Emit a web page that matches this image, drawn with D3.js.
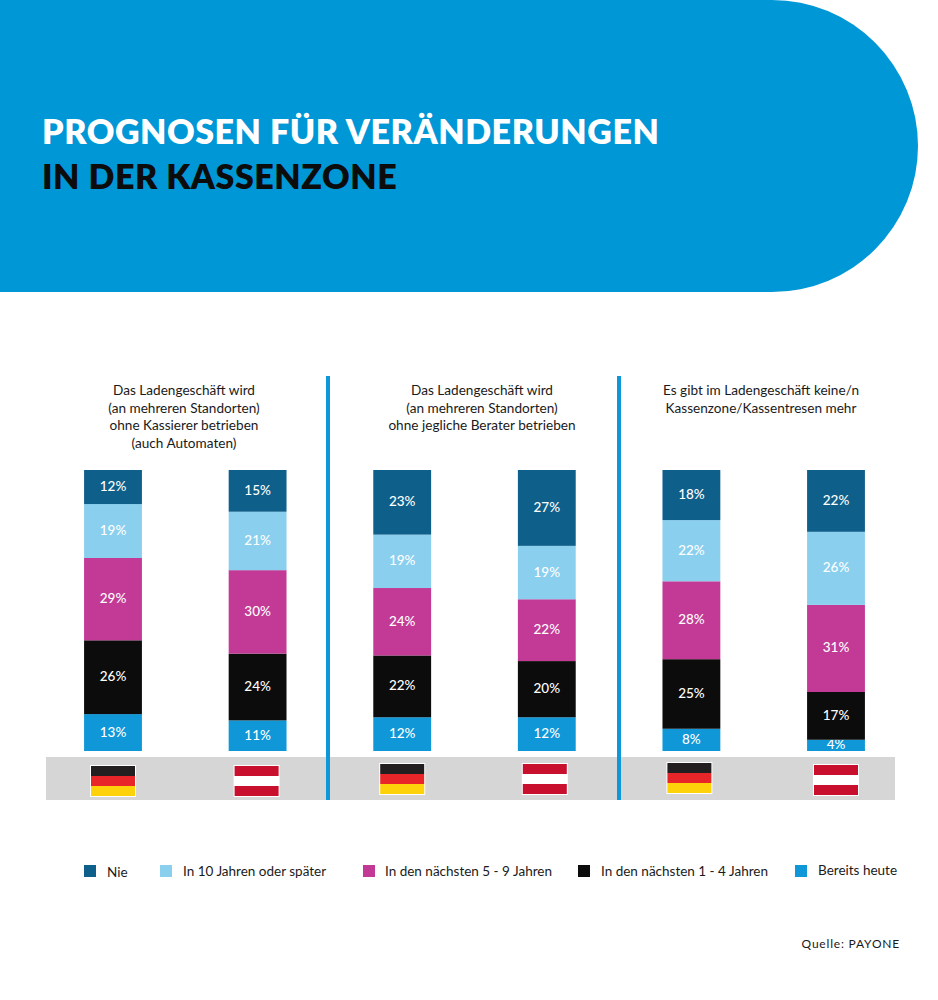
<!DOCTYPE html>
<html lang="de">
<head>
<meta charset="utf-8">
<script src="https://cdnjs.cloudflare.com/ajax/libs/d3/7.8.5/d3.min.js"></script>
<style>
  html, body { margin: 0; padding: 0; background: #fff; }
  svg { display: block; }
  text { font-family: Lato, "Open Sans", sans-serif; }
</style>
</head>
<body>
<div id="chart"></div>
<script>
// data, in stack order bottom to top
var bars = ["de1", "at1", "de2", "at2", "de3", "at3"];
var countries = ["de", "at", "de", "at", "de", "at"];
var bereitsHeute = [13, 11, 12, 12, 8, 4];
var jahre1bis4 = [26, 24, 22, 20, 25, 17];
var jahre5bis9 = [29, 30, 24, 22, 28, 31];
var jahre10 = [19, 21, 19, 19, 22, 26];
var nie = [12, 15, 23, 27, 18, 22];

var panelTitles = [
  ["Das Ladengeschäft wird", "(an mehreren Standorten)", "ohne Kassierer betrieben", "(auch Automaten)"],
  ["Das Ladengeschäft wird", "(an mehreren Standorten)", "ohne jegliche Berater betrieben"],
  ["Es gibt im Ladengeschäft keine/n", "Kassenzone/Kassentresen mehr"]
];
var legendLabels = ["Nie", "In 10 Jahren oder später", "In den nächsten 5 - 9 Jahren", "In den nächsten 1 - 4 Jahren", "Bereits heute"];
var seriesKeys = ["heute", "j1", "j5", "j10", "nie"];
var seriesColors = ["#0f97d8", "#0c0c0c", "#c23a96", "#8acfee", "#0f5f8b"];

var width = 938, height = 1000;

var svg = d3.select("#chart").append("svg")
  .attr("width", width)
  .attr("height", height);

// header shape
svg.append("path")
  .attr("d", "M0,0H772A146,146 0 0 1 772,292H0Z")
  .attr("fill", "#0097d7");

svg.append("text").attr("x", 42).attr("y", 144)
  .attr("fill", "#fff").attr("font-size", 34).attr("font-weight", 800)
  .attr("letter-spacing", 0.55)
  .text("PROGNOSEN FÜR VERÄNDERUNGEN");
svg.append("text").attr("x", 42).attr("y", 189)
  .attr("fill", "#0c0c0c").attr("font-size", 34).attr("font-weight", 800)
  .attr("letter-spacing", 0.55)
  .text("IN DER KASSENZONE");

// grey strip behind the flags
svg.append("rect").attr("x", 46).attr("y", 757).attr("width", 849).attr("height", 43).attr("fill", "#d6d6d6");

// scales
var x = d3.scaleBand().domain(bars).range([40.7, 908.3]).paddingInner(0.6).paddingOuter(0.3);
var y = d3.scaleLinear().domain([0, 1]).range([751, 470]);

// rows for the stack, the printed percentages do not always add to 100
var rows = bars.map(function(b, i) {
  return { bar: b, heute: bereitsHeute[i], j1: jahre1bis4[i], j5: jahre5bis9[i], j10: jahre10[i], nie: nie[i] };
});
var stacked = d3.stack().keys(seriesKeys).offset(d3.stackOffsetExpand)(rows);

var layers = svg.selectAll(".layer")
  .data(stacked)
  .enter()
  .append("g")
  .attr("class", "layer");

layers.selectAll("rect")
  .data(function(s) { return s; })
  .enter()
  .append("rect")
  .attr("x", function(d) { return x(d.data.bar); })
  .attr("y", function(d) { return y(d[1]); })
  .attr("width", x.bandwidth())
  .attr("height", function(d) { return y(d[0]) - y(d[1]); })
  .attr("fill", function(d, i, nodes) {
    return seriesColors[seriesKeys.indexOf(d3.select(nodes[i].parentNode).datum().key)];
  });

layers.selectAll("text")
  .data(function(s) { return s.map(function(d) { return { d: d, key: s.key }; }); })
  .enter()
  .append("text")
  .attr("x", function(e) { return x(e.d.data.bar) + x.bandwidth() / 2; })
  .attr("y", function(e) { return (y(e.d[0]) + y(e.d[1])) / 2; })
  .attr("dy", ".3em")
  .attr("text-anchor", "middle")
  .attr("fill", "#fff")
  .attr("font-size", 13.5)
  .attr("font-weight", 500)
  .text(function(e) { return e.d.data[e.key] + "%"; });

// flags
var flagStripes = {
  de: ["#231f20", "#e8262a", "#fdd20a"],
  at: ["#c8102e", "#ffffff", "#c8102e"]
};
var flagTop = [766, 766, 764, 764, 763, 765];
var flagShift = [0, -1, 0, -2, -2, 0];
var flags = svg.selectAll(".flag")
  .data(bars)
  .enter()
  .append("g")
  .attr("class", "flag")
  .attr("transform", function(b, i) {
    var cx = x(b) + x.bandwidth() / 2 + flagShift[i];
    return "translate(" + (cx - 22) + "," + flagTop[i] + ")";
  });
flags.append("rect")
  .attr("x", -1).attr("y", -1).attr("width", 46).attr("height", 32)
  .attr("fill", "#fff");
flags.selectAll(".stripe")
  .data(function(b, i) { return flagStripes[countries[i]]; })
  .enter()
  .append("rect")
  .attr("class", "stripe")
  .attr("y", function(c, i) { return i * 10; })
  .attr("width", 44)
  .attr("height", 10)
  .attr("fill", function(c) { return c; });

// separators between the panels
svg.selectAll(".sep")
  .data([328, 619])
  .enter()
  .append("rect")
  .attr("class", "sep")
  .attr("x", function(d) { return d - 2; })
  .attr("y", 376)
  .attr("width", 4)
  .attr("height", 424)
  .attr("fill", "#0f97d8");

// panel headings
var titleX = [184, 482, 761];
panelTitles.forEach(function(lines, p) {
  svg.selectAll(".title" + p)
    .data(lines)
    .enter()
    .append("text")
    .attr("class", "title" + p)
    .attr("x", titleX[p])
    .attr("y", function(d, i) { return 395 + i * 17.5; })
    .attr("text-anchor", "middle")
    .attr("fill", "#1a1a1a")
    .attr("font-size", 13.6)
    .text(function(d) { return d; });
});

// legend
var legendX = [84, 160, 363, 578, 795];
var legendTextX = [107, 183, 385, 601, 818];
var legendTextY = [877, 876, 876, 876, 875];
var legendColors = seriesColors.slice().reverse();
var legend = svg.selectAll(".legend")
  .data(legendLabels)
  .enter()
  .append("g")
  .attr("class", "legend");
legend.append("rect")
  .attr("x", function(d, i) { return legendX[i]; })
  .attr("y", 865)
  .attr("width", 12)
  .attr("height", 12)
  .attr("fill", function(d, i) { return legendColors[i]; });
legend.append("text")
  .attr("x", function(d, i) { return legendTextX[i]; })
  .attr("y", function(d, i) { return legendTextY[i]; })
  .attr("fill", "#1a1a1a")
  .attr("font-size", 13.5)
  .text(function(d) { return d; });

svg.append("text").attr("x", 900).attr("y", 948)
  .attr("text-anchor", "end")
  .attr("fill", "#1a1a1a").attr("font-size", 12)
  .attr("letter-spacing", 0.8)
  .text("Quelle: PAYONE");
</script>
</body>
</html>
